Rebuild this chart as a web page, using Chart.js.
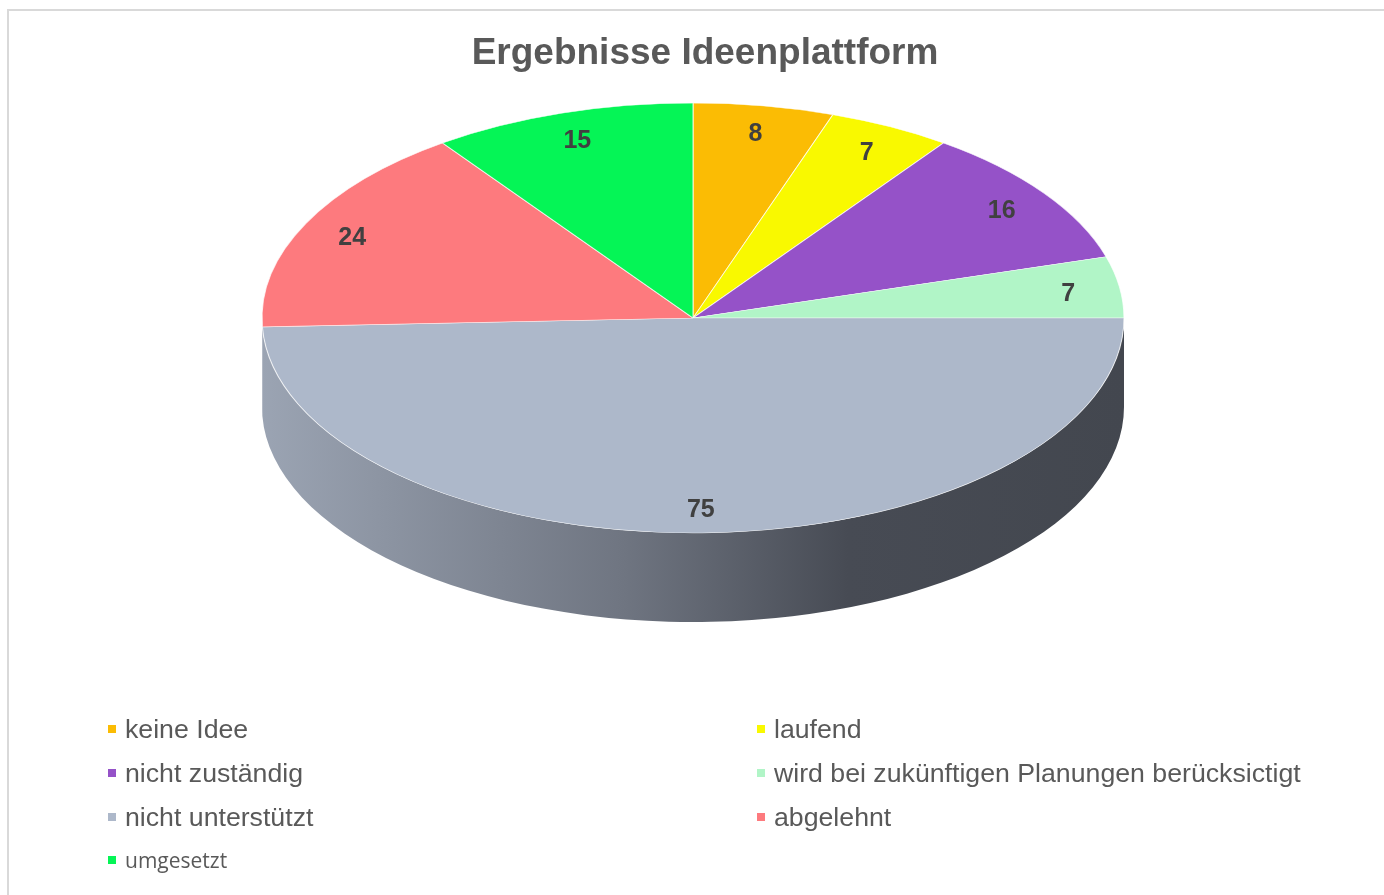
<!DOCTYPE html>
<html>
<head>
<meta charset="utf-8">
<script src="https://cdn.jsdelivr.net/npm/chart.js@4/dist/chart.umd.min.js"></script>
<style>
  html, body { margin: 0; padding: 0; background: #ffffff; overflow: hidden; }
  #wrap { position: relative; width: 1384px; height: 895px; }
  #frame { position: absolute; left: 7px; top: 9px; width: 1400px; height: 900px;
           border-left: 2px solid #d9d9d9; border-top: 2px solid #d9d9d9; box-sizing: border-box; }
  canvas { position: absolute; left: 0; top: 0; }
  .lg { position: absolute; display: flex; align-items: center; height: 30px;
        font-family: "Liberation Sans", Arial, sans-serif; font-size: 26.7px; color: #595959; white-space: nowrap; }
  .lg .mk { width: 8px; height: 8px; margin-right: 9px; flex: none; }
</style>
</head>
<body>
<div id="wrap">
  <div id="frame"></div>
  <canvas id="c" width="1384" height="895"></canvas>
  <div id="legend"></div>
</div>
<script>
const categories = ['keine Idee', 'laufend', 'nicht zuständig', 'wird bei zukünftigen Planungen berücksictigt', 'nicht unterstützt', 'abgelehnt', 'umgesetzt'];
const values = [8, 7, 16, 7, 75, 24, 15];
const sliceColors = ['#fbbc04', '#f9f900', '#9552c8', '#b1f5c7', '#adb8ca', '#fd7a7e', '#05f556'];
const titleText = 'Ergebnisse Ideenplattform';

// layout of the flattened (3D-look) pie on screen
const PIE = { cx: 693, cy: 318, rx: 431, ry: 215, depth: 89, labelR: 0.88, labelDy: 3 };

const pie3d = {
  id: 'pie3d',
  beforeDatasetsDraw(chart) {
    const ctx = chart.ctx;
    const meta = chart.getDatasetMeta(0);
    const a0 = meta.data[0];
    const cx = a0.x, cy = a0.y, R = a0.outerRadius;
    // side wall (front-facing part)
    const grad = ctx.createLinearGradient(PIE.cx - PIE.rx, 0, PIE.cx + PIE.rx, 0);
    grad.addColorStop(0, '#9ba4b3');
    grad.addColorStop(0.42, '#6f7581');
    grad.addColorStop(0.68, '#474b54');
    grad.addColorStop(1, '#43474f');
    ctx.save();
    meta.data.forEach((arc) => {
      let s = Math.max(arc.startAngle, 0);
      let e = Math.min(arc.endAngle, Math.PI);
      if (e <= s) return;
      ctx.beginPath();
      ctx.ellipse(PIE.cx, PIE.cy, PIE.rx, PIE.ry, 0, s, e, false);
      ctx.ellipse(PIE.cx, PIE.cy + PIE.depth, PIE.rx, PIE.ry, 0, e, s, true);
      ctx.closePath();
      ctx.fillStyle = grad;
      ctx.fill();
    });
    ctx.restore();
    // flatten the pie drawn by Chart.js
    ctx.save();
    ctx.translate(PIE.cx, PIE.cy);
    ctx.scale(PIE.rx / R, PIE.ry / R);
    ctx.translate(-cx, -cy);
  },
  afterDatasetsDraw(chart) {
    const ctx = chart.ctx;
    ctx.restore();
    const meta = chart.getDatasetMeta(0);
    const data = chart.data.datasets[0].data;
    ctx.save();
    ctx.font = 'bold 25px "Liberation Sans", Arial, sans-serif';
    ctx.fillStyle = '#404040';
    ctx.textAlign = 'center';
    ctx.textBaseline = 'middle';
    meta.data.forEach((arc, i) => {
      const mid = (arc.startAngle + arc.endAngle) / 2;
      const x = PIE.cx + Math.cos(mid) * PIE.rx * PIE.labelR;
      const y = PIE.cy + Math.sin(mid) * PIE.ry * PIE.labelR + PIE.labelDy;
      ctx.fillText(String(data[i]), x, y);
    });
    ctx.restore();
  }
};

new Chart(document.getElementById('c'), {
  type: 'pie',
  data: {
    labels: categories,
    datasets: [{
      data: values,
      backgroundColor: sliceColors,
      borderColor: 'rgba(255,255,255,0.75)',
      borderWidth: 1
    }]
  },
  options: {
    responsive: false,
    animation: false,
    layout: { padding: { left: 26, top: 0, right: 0, bottom: 0 } },
    plugins: {
      legend: { display: false },
      tooltip: { enabled: false },
      title: {
        display: true,
        text: titleText,
        color: '#595959',
        font: { family: '"Liberation Sans", Arial, sans-serif', size: 37, weight: 'bold' },
        padding: { top: 32, bottom: 10 }
      }
    }
  },
  plugins: [pie3d]
});

// legend (two columns, row-major)
const legendEl = document.getElementById('legend');
const colX = [108, 757];
const rowY = [729, 773, 817, 860];
categories.forEach((name, i) => {
  const col = i % 2, row = Math.floor(i / 2);
  const d = document.createElement('div');
  d.className = 'lg';
  d.style.left = colX[col] + 'px';
  d.style.top = (rowY[row] - 15) + 'px';
  if (i === categories.length - 1) {
    d.style.fontFamily = '"Open Sans", sans-serif';
    d.style.fontSize = '21px';
  }
  const m = document.createElement('span');
  m.className = 'mk';
  m.style.background = sliceColors[i];
  const t = document.createElement('span');
  t.textContent = name;
  d.appendChild(m);
  d.appendChild(t);
  legendEl.appendChild(d);
});
</script>
</body>
</html>
